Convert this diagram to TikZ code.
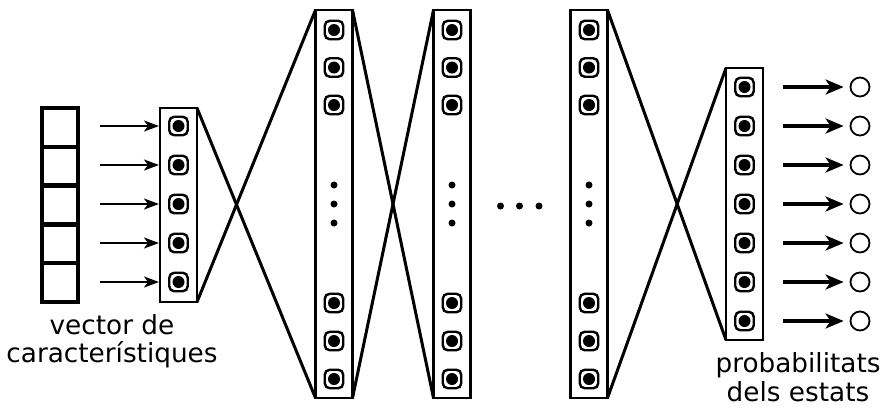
\documentclass[tikz,border=0pt]{standalone}
\usepackage{fontspec}
\setmainfont{DejaVu Sans}
\usetikzlibrary{arrows.meta,positioning}

\begin{document}
\begin{tikzpicture}[x=1pt,y=-1pt,every node/.style={font=\fontsize{26.3}{28.5}\selectfont},
  cell/.style={draw,line width=4.5pt,minimum width=36pt,minimum height=38.8pt,inner sep=0pt,outer sep=0pt},
  layer/.style={draw,line width=2.2pt,minimum width=37pt,inner sep=0pt,outer sep=0pt},
  neuron/.style={draw,line width=2.4pt,rounded corners=5pt,minimum size=18.5pt,inner sep=0pt,
    path picture={\fill (path picture bounding box.center) circle (6pt);}},
  prob/.style={draw,circle,line width=1.8pt,minimum size=19pt,inner sep=0pt},
  dot/.style={fill,circle,minimum size=7pt,inner sep=0pt},
  link/.style={line width=3pt},
  inarrow/.style={line width=2pt,-{Stealth[length=15pt,width=11pt,inset=4pt]}},
  outarrow/.style={line width=3.4pt,-{Stealth[length=18pt,width=15pt,inset=5pt]}}]
  \useasboundingbox (0,0) rectangle (884,408);
  % input vector
  \foreach \i in {1,...,5}
    \node[cell] (v\i) at (60,{108+38.8*(\i-0.5)}) {};
  % first layer
  \node[layer,minimum height=194pt] (l1) at (178.5,205) {};
  \foreach \i in {1,...,5}
    \node[neuron] (a\i) at (178.5,{126+39*(\i-1)}) {};
  \foreach \i in {1,...,5}
    \draw[inarrow,shorten <=22pt,shorten >=1pt] (v\i.east |- a\i) -- (l1.west |- a\i);
  % hidden layers
  \foreach \n/\x in {h1/334,h2/452,h3/589} {
    \node[layer,minimum height=388pt] (\n) at (\x,204) {};
    \foreach \y [count=\j] in {30,67.5,105,303,341,379}
      \node[neuron] (\n n\j) at (\x,\y) {};
    \foreach \y [count=\j] in {185,204,223}
      \node[dot] (\n d\j) at (\x,\y) {};
  }
  \foreach \x [count=\j] in {500.5,519.5,539}
    \node[dot] (hd\j) at (\x,206) {};
  % output layer
  \node[layer,minimum height=272pt] (out) at (744.5,204) {};
  \foreach \i in {1,...,7} {
    \node[neuron] (o\i) at (744.5,{87+39*(\i-1)}) {};
    \node[prob] (p\i) at (860,{87+39*(\i-1)}) {};
    \draw[outarrow,shorten <=20pt,shorten >=6pt] (out.east |- o\i) -- (p\i);
  }
  % links between layers
  \draw[link] (l1.north east) -- (h1.south west);
  \draw[link] (l1.south east) -- (h1.north west);
  \draw[link] (h1.north east) -- (h2.south west);
  \draw[link] (h1.south east) -- (h2.north west);
  \draw[link] (h3.north east) -- (out.south west);
  \draw[link] (h3.south east) -- (out.north west);
  % labels
  \node[align=center] (inlabel) at (112,341) {vector de\\característiques};
  \node[align=center] (outlabel) at (798,377) {probabilitats\\dels estats};
\end{tikzpicture}
\end{document}
